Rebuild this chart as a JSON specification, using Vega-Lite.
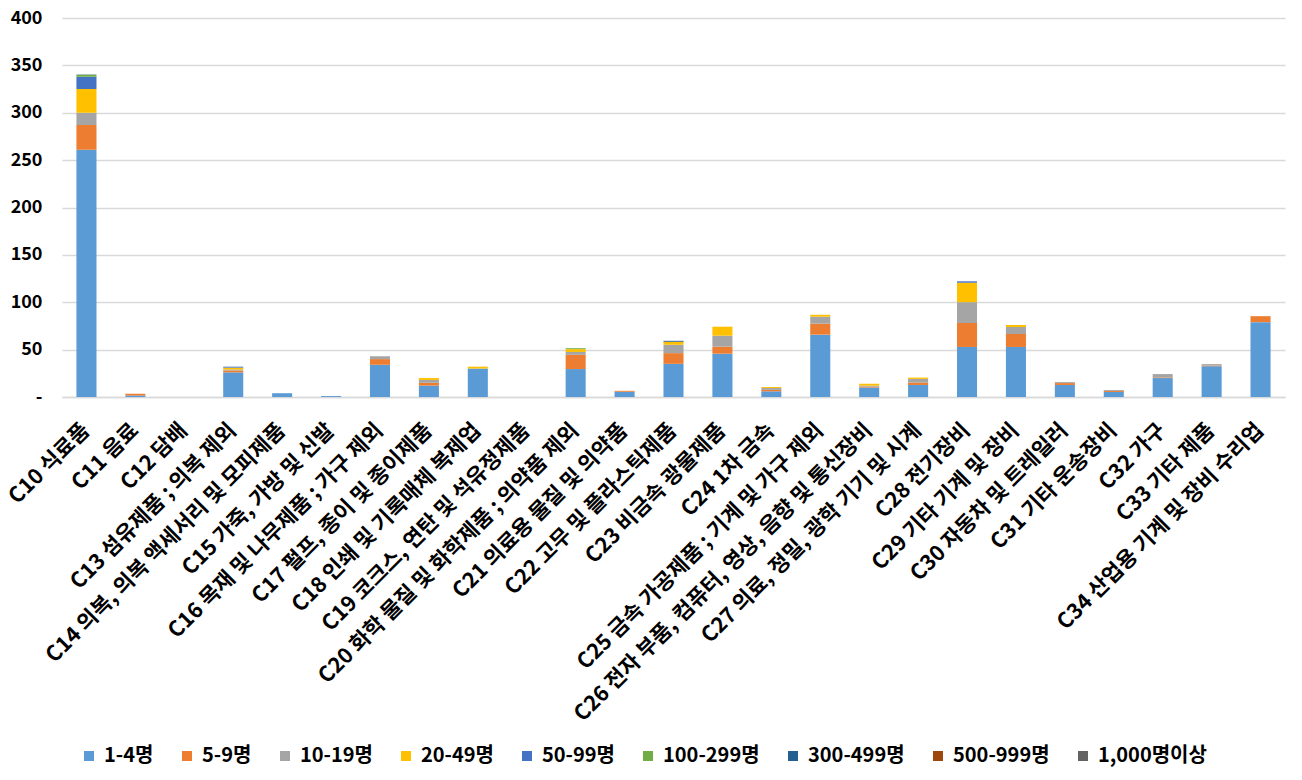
{
  "$schema": "https://vega.github.io/schema/vega-lite/v6.json",
  "width": 1223,
  "height": 379,
  "autosize": {"type": "none"},
  "padding": {"left": 62, "top": 18, "right": 17, "bottom": 383},
  "background": "white",
  "config": {
    "view": {"stroke": null},
    "font": "Noto Sans CJK KR"
  },
  "data": {
    "values": [
      {"c": "C10 식료품", "s": "1-4명", "o": 1, "v": 261},
      {"c": "C10 식료품", "s": "5-9명", "o": 2, "v": 26},
      {"c": "C10 식료품", "s": "10-19명", "o": 3, "v": 13},
      {"c": "C10 식료품", "s": "20-49명", "o": 4, "v": 25},
      {"c": "C10 식료품", "s": "50-99명", "o": 5, "v": 13},
      {"c": "C10 식료품", "s": "100-299명", "o": 6, "v": 2},
      {"c": "C10 식료품", "s": "300-499명", "o": 7, "v": 0.5},
      {"c": "C11 음료", "s": "1-4명", "o": 1, "v": 1.5},
      {"c": "C11 음료", "s": "5-9명", "o": 2, "v": 2},
      {"c": "C12 담배", "s": "1-4명", "o": 1, "v": 0},
      {"c": "C13 섬유제품 ; 의복 제외", "s": "1-4명", "o": 1, "v": 26},
      {"c": "C13 섬유제품 ; 의복 제외", "s": "5-9명", "o": 2, "v": 2},
      {"c": "C13 섬유제품 ; 의복 제외", "s": "10-19명", "o": 3, "v": 1},
      {"c": "C13 섬유제품 ; 의복 제외", "s": "20-49명", "o": 4, "v": 2},
      {"c": "C13 섬유제품 ; 의복 제외", "s": "50-99명", "o": 5, "v": 1},
      {"c": "C14 의복, 의복 액세서리 및 모피제품", "s": "1-4명", "o": 1, "v": 4},
      {"c": "C15 가죽, 가방 및 신발", "s": "1-4명", "o": 1, "v": 1},
      {"c": "C16 목재 및 나무제품 ; 가구 제외", "s": "1-4명", "o": 1, "v": 34},
      {"c": "C16 목재 및 나무제품 ; 가구 제외", "s": "5-9명", "o": 2, "v": 6},
      {"c": "C16 목재 및 나무제품 ; 가구 제외", "s": "10-19명", "o": 3, "v": 3},
      {"c": "C17 펄프, 종이 및 종이제품", "s": "1-4명", "o": 1, "v": 12},
      {"c": "C17 펄프, 종이 및 종이제품", "s": "5-9명", "o": 2, "v": 3},
      {"c": "C17 펄프, 종이 및 종이제품", "s": "10-19명", "o": 3, "v": 3},
      {"c": "C17 펄프, 종이 및 종이제품", "s": "20-49명", "o": 4, "v": 2},
      {"c": "C18 인쇄 및 기록매체 복제업", "s": "1-4명", "o": 1, "v": 30},
      {"c": "C18 인쇄 및 기록매체 복제업", "s": "20-49명", "o": 4, "v": 2},
      {"c": "C19 코크스, 연탄 및 석유정제품", "s": "1-4명", "o": 1, "v": 0},
      {"c": "C20 화학 물질 및 화학제품 ; 의약품 제외", "s": "1-4명", "o": 1, "v": 29.5},
      {"c": "C20 화학 물질 및 화학제품 ; 의약품 제외", "s": "5-9명", "o": 2, "v": 15},
      {"c": "C20 화학 물질 및 화학제품 ; 의약품 제외", "s": "10-19명", "o": 3, "v": 3},
      {"c": "C20 화학 물질 및 화학제품 ; 의약품 제외", "s": "20-49명", "o": 4, "v": 3},
      {"c": "C20 화학 물질 및 화학제품 ; 의약품 제외", "s": "100-299명", "o": 6, "v": 1},
      {"c": "C21 의료용 물질 및 의약품", "s": "1-4명", "o": 1, "v": 5.5},
      {"c": "C21 의료용 물질 및 의약품", "s": "5-9명", "o": 2, "v": 1},
      {"c": "C22 고무 및 플라스틱제품", "s": "1-4명", "o": 1, "v": 35},
      {"c": "C22 고무 및 플라스틱제품", "s": "5-9명", "o": 2, "v": 11.3},
      {"c": "C22 고무 및 플라스틱제품", "s": "10-19명", "o": 3, "v": 8.8},
      {"c": "C22 고무 및 플라스틱제품", "s": "20-49명", "o": 4, "v": 3.2},
      {"c": "C22 고무 및 플라스틱제품", "s": "300-499명", "o": 7, "v": 1},
      {"c": "C23 비금속 광물제품", "s": "1-4명", "o": 1, "v": 45.7},
      {"c": "C23 비금속 광물제품", "s": "5-9명", "o": 2, "v": 7.4},
      {"c": "C23 비금속 광물제품", "s": "10-19명", "o": 3, "v": 11.6},
      {"c": "C23 비금속 광물제품", "s": "20-49명", "o": 4, "v": 9.5},
      {"c": "C24 1차 금속", "s": "1-4명", "o": 1, "v": 6},
      {"c": "C24 1차 금속", "s": "5-9명", "o": 2, "v": 1.5},
      {"c": "C24 1차 금속", "s": "10-19명", "o": 3, "v": 2},
      {"c": "C24 1차 금속", "s": "20-49명", "o": 4, "v": 1},
      {"c": "C25 금속 가공제품 ; 기계 및 가구 제외", "s": "1-4명", "o": 1, "v": 65.8},
      {"c": "C25 금속 가공제품 ; 기계 및 가구 제외", "s": "5-9명", "o": 2, "v": 11.6},
      {"c": "C25 금속 가공제품 ; 기계 및 가구 제외", "s": "10-19명", "o": 3, "v": 7.4},
      {"c": "C25 금속 가공제품 ; 기계 및 가구 제외", "s": "20-49명", "o": 4, "v": 2},
      {"c": "C26 전자 부품, 컴퓨터, 영상, 음향 및 통신장비", "s": "1-4명", "o": 1, "v": 10},
      {"c": "C26 전자 부품, 컴퓨터, 영상, 음향 및 통신장비", "s": "5-9명", "o": 2, "v": 1},
      {"c": "C26 전자 부품, 컴퓨터, 영상, 음향 및 통신장비", "s": "10-19명", "o": 3, "v": 1},
      {"c": "C26 전자 부품, 컴퓨터, 영상, 음향 및 통신장비", "s": "20-49명", "o": 4, "v": 2},
      {"c": "C27 의료, 정밀, 광학 기기 및 시계", "s": "1-4명", "o": 1, "v": 12.7},
      {"c": "C27 의료, 정밀, 광학 기기 및 시계", "s": "5-9명", "o": 2, "v": 2.5},
      {"c": "C27 의료, 정밀, 광학 기기 및 시계", "s": "10-19명", "o": 3, "v": 3.9},
      {"c": "C27 의료, 정밀, 광학 기기 및 시계", "s": "20-49명", "o": 4, "v": 1.4},
      {"c": "C28 전기장비", "s": "1-4명", "o": 1, "v": 52.8},
      {"c": "C28 전기장비", "s": "5-9명", "o": 2, "v": 25.3},
      {"c": "C28 전기장비", "s": "10-19명", "o": 3, "v": 22},
      {"c": "C28 전기장비", "s": "20-49명", "o": 4, "v": 20.5},
      {"c": "C28 전기장비", "s": "50-99명", "o": 5, "v": 1.5},
      {"c": "C29 기타 기계 및 장비", "s": "1-4명", "o": 1, "v": 52.8},
      {"c": "C29 기타 기계 및 장비", "s": "5-9명", "o": 2, "v": 13.7},
      {"c": "C29 기타 기계 및 장비", "s": "10-19명", "o": 3, "v": 7.4},
      {"c": "C29 기타 기계 및 장비", "s": "20-49명", "o": 4, "v": 2.1},
      {"c": "C30 자동차 및 트레일러", "s": "1-4명", "o": 1, "v": 12.7},
      {"c": "C30 자동차 및 트레일러", "s": "5-9명", "o": 2, "v": 2},
      {"c": "C30 자동차 및 트레일러", "s": "10-19명", "o": 3, "v": 1},
      {"c": "C31 기타 운송장비", "s": "1-4명", "o": 1, "v": 5.3},
      {"c": "C31 기타 운송장비", "s": "5-9명", "o": 2, "v": 1},
      {"c": "C31 기타 운송장비", "s": "10-19명", "o": 3, "v": 1},
      {"c": "C32 가구", "s": "1-4명", "o": 1, "v": 20},
      {"c": "C32 가구", "s": "5-9명", "o": 2, "v": 0.7},
      {"c": "C32 가구", "s": "10-19명", "o": 3, "v": 3.5},
      {"c": "C33 기타 제품", "s": "1-4명", "o": 1, "v": 32.5},
      {"c": "C33 기타 제품", "s": "5-9명", "o": 2, "v": 0.7},
      {"c": "C33 기타 제품", "s": "10-19명", "o": 3, "v": 1.5},
      {"c": "C34 산업용 기계 및 장비 수리업", "s": "1-4명", "o": 1, "v": 79},
      {"c": "C34 산업용 기계 및 장비 수리업", "s": "5-9명", "o": 2, "v": 6.3}
    ]
  },
  "mark": {"type": "bar"},
  "encoding": {
    "x": {
      "field": "c",
      "type": "nominal",
      "sort": null,
      "title": null,
      "scale": {"paddingInner": 0.59, "paddingOuter": 0.295},
      "axis": {
        "labelAngle": -45,
        "labelAlign": "right",
        "labelBaseline": "middle",
        "labelFont": "Noto Sans CJK KR",
        "labelFontWeight": "bold",
        "labelFontSize": 21.5,
        "labelColor": "#000000",
        "labelLimit": 0,
        "labelPadding": 30,
        "labelOverlap": false,
        "ticks": false,
        "domainColor": "#d9d9d9",
        "domainWidth": 1.5
      }
    },
    "y": {
      "field": "v",
      "type": "quantitative",
      "stack": "zero",
      "title": null,
      "scale": {"domain": [0, 400], "nice": false},
      "axis": {
        "values": [0, 50, 100, 150, 200, 250, 300, 350, 400],
        "labelExpr": "datum.value == 0 ? '-' : datum.label",
        "labelFont": "Noto Sans CJK KR",
        "labelFontWeight": "bold",
        "labelFontSize": 18,
        "labelColor": "#000000",
        "labelPadding": 20,
        "domain": false,
        "ticks": false,
        "gridColor": "#d9d9d9",
        "gridWidth": 1.5
      }
    },
    "color": {
      "field": "s",
      "type": "nominal",
      "title": null,
      "scale": {
        "domain": ["1-4명", "5-9명", "10-19명", "20-49명", "50-99명", "100-299명", "300-499명", "500-999명", "1,000명이상"],
        "range": ["#5B9BD5", "#ED7D31", "#A5A5A5", "#FFC000", "#4472C4", "#70AD47", "#255E91", "#9E480E", "#636363"]
      },
      "legend": {
        "orient": "none",
        "direction": "horizontal",
        "legendX": 17,
        "legendY": 728,
        "symbolType": "square",
        "symbolSize": 100,
        "symbolStrokeWidth": 0,
        "labelFont": "Noto Sans CJK KR",
        "labelFontWeight": "bold",
        "labelFontSize": 20,
        "labelColor": "#000000",
        "labelOffset": 5,
        "columnPadding": 23,
        "labelLimit": 0
      }
    },
    "order": {"field": "o", "type": "quantitative", "sort": "ascending"}
  }
}
